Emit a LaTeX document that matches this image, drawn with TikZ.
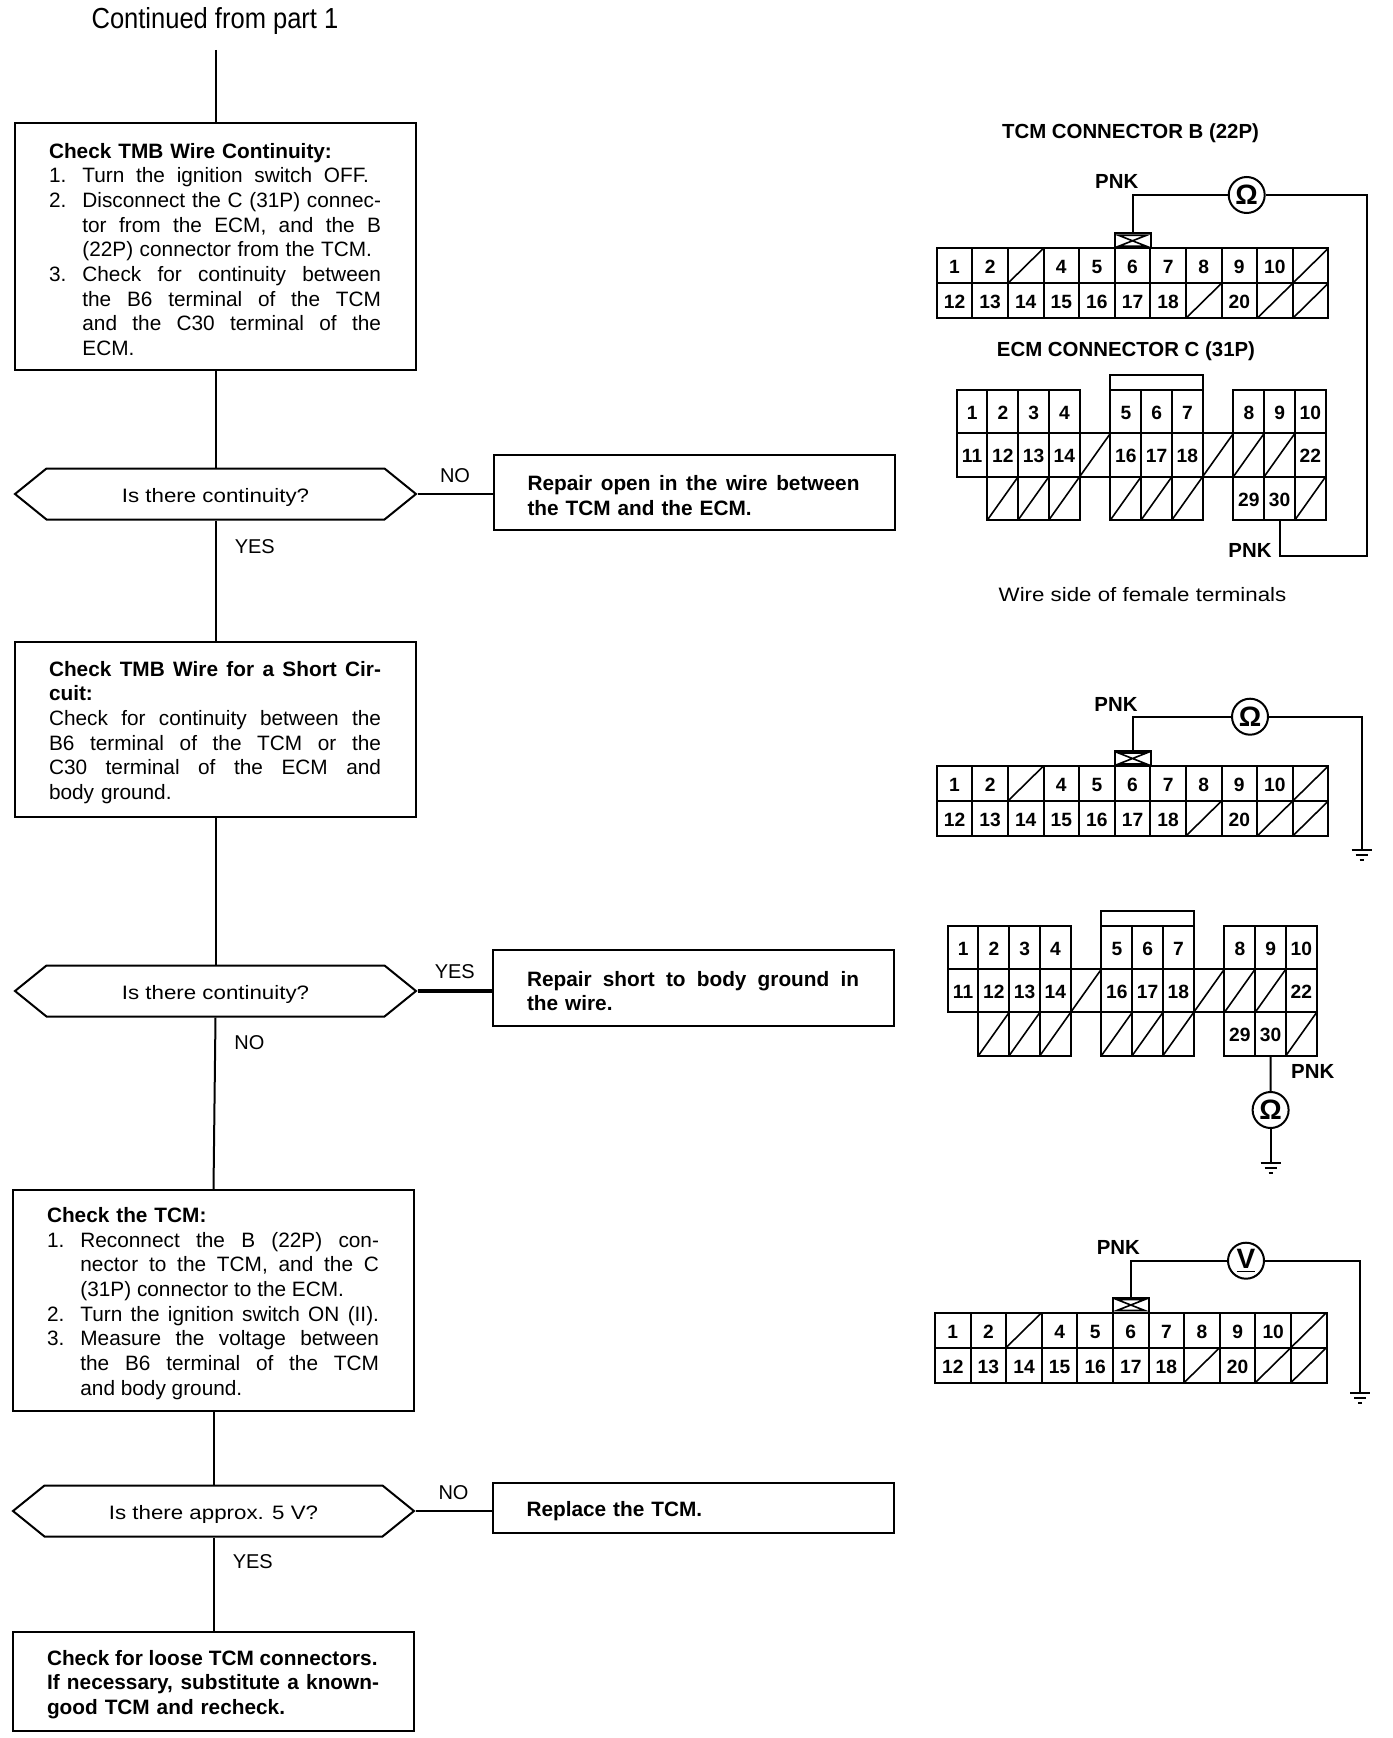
\documentclass[tikz,border=0pt]{standalone}
\usepackage{fontspec}
\setmainfont{Liberation Sans}
\newfontfamily\widefont[FakeStretch=1.15]{Liberation Sans}
\usepackage{tikz}
\usetikzlibrary{positioning}
\usetikzlibrary{shapes.symbols}

% text lines stretched to the width of the box
\newcommand{\fullline}[1]{\makebox[166pt][s]{\spaceskip=0pt\relax #1}}
\newcommand{\numline}[2]{\makebox[16.7pt][l]{#1}\makebox[149.3pt][s]{\spaceskip=0pt\relax #2}}
\newcommand{\contline}[1]{\hspace*{16.7pt}\makebox[149.3pt][s]{\spaceskip=0pt\relax #1}}

\tikzset{
    wire/.style={line width=1pt},
    stepbox/.style={draw, line width=1pt, rectangle, minimum width=200.5pt, inner xsep=17pt, inner ysep=0pt,
        text width=166.5pt, align=left, font=\fontsize{10.4}{12.35}\selectfont,
        execute at begin node={\rule{0pt}{10.5pt}\ignorespaces}},
    fixbox/.style={stepbox, font=\bfseries\fontsize{10.4}{12.35}\selectfont},
    question/.style={draw, line width=1pt, signal, signal to=west and east, signal pointer angle=78,
        minimum width=200.5pt, minimum height=25.5pt, inner sep=0pt, text height=8pt, text depth=0pt,
        font=\widefont\fontsize{9.7}{12}\selectfont},
    answer/.style={font=\fontsize{10}{12}\selectfont},
    pin/.style={draw, line width=1pt, rectangle, inner sep=0pt, outer sep=0pt, text height=8pt, text depth=0pt,
        font=\bfseries\fontsize{9.6}{11}\selectfont},
    tcmpin/.style={pin, minimum width=17.8pt, minimum height=17.5pt},
    ecmpin/.style={pin, minimum width=15.375pt, minimum height=21.65pt},
    slash/.style={path picture={\draw[line width=.8pt] (path picture bounding box.south west) -- (path picture bounding box.north east);}},
    tabbox/.style={draw, line width=1pt, rectangle, inner sep=0pt, outer sep=0pt, minimum width=18pt, minimum height=7.5pt,
        path picture={\draw[line width=.8pt] ([xshift=2pt,yshift=-1pt]path picture bounding box.north west)
            -- ([xshift=-2pt,yshift=-1pt]path picture bounding box.north east)
            -- ([xshift=2pt,yshift=1pt]path picture bounding box.south west)
            -- ([xshift=-2pt,yshift=1pt]path picture bounding box.south east) -- cycle;}},
    meter/.style={draw, line width=1pt, circle, minimum size=18pt, inner sep=0pt, font=\bfseries\fontsize{14}{14}\selectfont},
    title/.style={font=\bfseries\fontsize{10.2}{12}\selectfont},
    ground/.pic={\draw[line width=1pt] (-10,0) -- (10,0) (-6,5) -- (6,5) (-2,10) -- (2,10);},
}

% 22P connector: #1 prefix of the names, #2 top left corner
\newcommand{\tcmconn}[2]{
    \begin{scope}[shift={#2}]
        \foreach \c/\r/\t in {0/0/1,1/0/2,3/0/4,4/0/5,5/0/6,6/0/7,7/0/8,8/0/9,9/0/10,
            0/1/12,1/1/13,2/1/14,3/1/15,4/1/16,5/1/17,6/1/18,8/1/20}
            \node [tcmpin] (#1-\t) at (\c*35.6+17.8,\r*35+17.5) {\t};
        \foreach \c/\r in {2/0,10/0,7/1,9/1,10/1}
            \node [tcmpin,slash] (#1-s\c\r) at (\c*35.6+17.8,\r*35+17.5) {};
        \node [tabbox,above=0pt of #1-6] (#1-tab) {};
    \end{scope}
}

% 31P connector
\newcommand{\ecmconn}[2]{
    \begin{scope}[shift={#2}]
        \foreach \c/\r/\t in {0/0/1,1/0/2,2/0/3,3/0/4,5/0/5,6/0/6,7/0/7,9/0/8,10/0/9,11/0/10,
            0/1/11,1/1/12,2/1/13,3/1/14,5/1/16,6/1/17,7/1/18,11/1/22,9/2/29,10/2/30}
            \node [ecmpin] (#1-\t) at (\c*30.75+15.375,\r*43.3+21.65) {\t};
        \foreach \c/\r in {4/1,8/1,9/1,10/1,1/2,2/2,3/2,5/2,6/2,7/2,11/2}
            \node [ecmpin,slash] (#1-s\c\r) at (\c*30.75+15.375,\r*43.3+21.65) {};
        \node [draw,line width=1pt,rectangle,inner sep=0pt,outer sep=0pt,minimum width=46.1pt,minimum height=7.5pt,above=0pt of #1-6] (#1-tab) {};
    \end{scope}
}

\begin{document}
\begin{tikzpicture}[x=0.5pt,y=-0.5pt]
    \useasboundingbox (0,0) rectangle (1392,1738);

    % flow chart
    \node [font=\fontsize{14.5}{16}\selectfont,xscale=.88] (cont) at (215,21) {Continued from part 1};
    \coordinate (start) at (215.5,50);

    \node [stepbox,minimum height=123.5pt] (chk1) at (215.5,246.5) {
        \textbf{Check TMB Wire Continuity:}\\
        \numline{1.}{Turn the ignition switch OFF.\hspace*{6pt}}\\
        \numline{2.}{Disconnect the C (31P) connec-}\\
        \contline{tor from the ECM, and the B}\\
        \contline{(22P) connector from the TCM.\hspace*{4.5pt}}\\
        \numline{3.}{Check for continuity between}\\
        \contline{the B6 terminal of the TCM}\\
        \contline{and the C30 terminal of the}\\
        \contline{ECM.\hfill}};
    \node [question] (dec1) at (215.5,494) {Is there continuity?};
    \node [fixbox,minimum height=37.5pt] (rep1) at (694,492.5) {
        \fullline{Repair open in the wire between}\\
        the TCM and the ECM.};

    \node [stepbox,minimum height=87.5pt] (chk2) at (215.5,729.5) {
        \fullline{\textbf{Check TMB Wire for a Short Cir-}}\\
        \textbf{cuit:}\\
        \fullline{Check for continuity between the}\\
        \fullline{B6 terminal of the TCM or the}\\
        \fullline{C30 terminal of the ECM and}\\
        body ground.};
    \node [question] (dec2) at (215.5,991) {Is there continuity?};
    \node [fixbox,minimum height=38pt] (rep2) at (693.5,988) {
        \fullline{Repair short to body ground in}\\
        the wire.};

    \node [stepbox,minimum height=110.5pt] (chk3) at (213.5,1300.5) {
        \textbf{Check the TCM:}\\
        \numline{1.}{Reconnect the B (22P) con-}\\
        \contline{nector to the TCM, and the C}\\
        \contline{(31P) connector to the ECM.\hfill}\\
        \numline{2.}{Turn the ignition switch ON (II).}\\
        \numline{3.}{Measure the voltage between}\\
        \contline{the B6 terminal of the TCM}\\
        \contline{and body ground.\hfill}};
    \node [question] (dec3) at (213.5,1511) {Is there approx. 5 V?};
    \node [fixbox,minimum height=25pt] (rep3) at (693,1508) {Replace the TCM.};

    \node [fixbox,minimum height=49.5pt] (chk4) at (213.5,1681.5) {
        \fullline{Check for loose TCM connectors.\hfill}\\
        \fullline{If necessary, substitute a known-}\\
        good TCM and recheck.};

    \path [wire]
        (start) edge (chk1.north)
        (chk1.south) edge (dec1.north)
        (dec1.south) edge node [answer,right,pos=.215,xshift=5.8pt] {YES} (chk2.north)
        (dec1.east) edge node [answer,above,yshift=2pt] {NO} (dec1.east -| rep1.west)
        (chk2.south) edge (dec2.north)
        (dec2.south) edge node [answer,right,pos=.145,xshift=5.8pt] {NO} (chk3.north)
        (dec2.east) edge [line width=1.6pt] node [answer,above,yshift=2pt] {YES} (dec2.east -| rep2.west)
        (chk3.south) edge (dec3.north)
        (dec3.south) edge node [answer,right,pos=.26,xshift=5.8pt] {YES} (chk4.north)
        (dec3.east) edge node [answer,above,yshift=2pt] {NO} (dec3.east -| rep3.west);

    % continuity check between the two connectors
    \node [title] (ttlB) at (1130.5,133) {TCM CONNECTOR B (22P)};
    \tcmconn{tcmA}{(936.7,248.3)}
    \node [title] (ttlC) at (1126,351.5) {ECM CONNECTOR C (31P)};
    \ecmconn{ecmA}{(956.7,390)}
    \node [font=\widefont\fontsize{9.7}{12}\selectfont] (side) at (1142.5,595) {Wire side of female terminals};
    \node [meter] (ohmA) at (1246.7,195) {Ω};
    \node [title] (pnkA) at (1116.7,181.7) {PNK};
    \node [title] (pnkB) at (1250,550) {PNK};
    \coordinate (bendA) at (1366.7,556);
    \draw [wire] (tcmA-tab.north) |- (ohmA.west);
    \draw [wire] (ohmA.east) -| (bendA) -| (ecmA-30.south);

    % short to ground, TCM side
    \tcmconn{tcmB}{(936.7,766)}
    \node [meter] (ohmB) at (1250,716.7) {Ω};
    \node [title] (pnkC) at (1116,704) {PNK};
    \coordinate (gndB) at (1361.7,850);
    \draw [wire] (tcmB-tab.north) |- (ohmB.west);
    \draw [wire] (ohmB.east) -| (gndB);
    \pic at (gndB) {ground};

    % short to ground, ECM side
    \ecmconn{ecmB}{(947.7,925.7)}
    \node [meter] (ohmC) at (1270.6,1110) {Ω};
    \node [title] (pnkD) at (1312.7,1071.7) {PNK};
    \coordinate (gndC) at (1270.6,1163);
    \draw [wire] (ecmB-30.south) -- (ohmC.north);
    \draw [wire] (ohmC.south) -- (gndC);
    \pic at (gndC) {ground};

    % voltage check
    \tcmconn{tcmC}{(935,1312.5)}
    \node [meter] (voltA) at (1246,1260.7) {\underline{V}};
    \node [title] (pnkE) at (1118.3,1247) {PNK};
    \coordinate (gndD) at (1360,1393);
    \draw [wire] (tcmC-tab.north) |- (voltA.west);
    \draw [wire] (voltA.east) -| (gndD);
    \pic at (gndD) {ground};
\end{tikzpicture}
\end{document}
